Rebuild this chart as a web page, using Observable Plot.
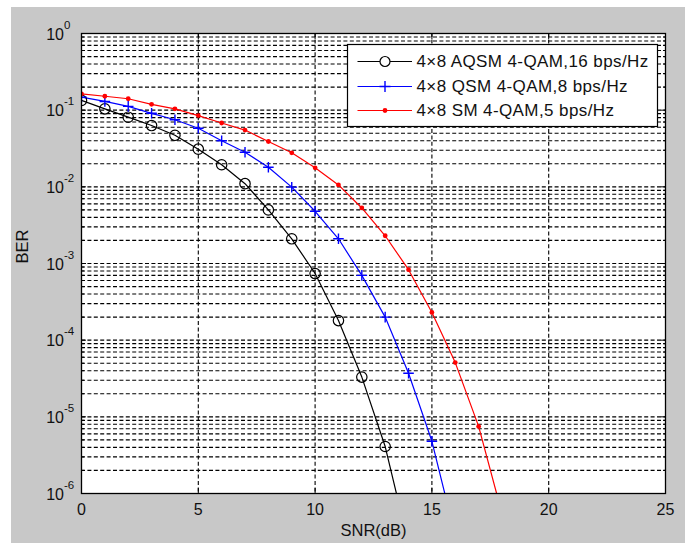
<!DOCTYPE html>
<html>
<head>
<meta charset="utf-8">
<script src="https://cdn.jsdelivr.net/npm/d3@7"></script>
<script src="https://cdn.jsdelivr.net/npm/@observablehq/plot@0.6"></script>
<style>
  body { margin: 0; background: #ffffff; }
  #fig { position: absolute; left: 11px; top: 7px; width: 674px; height: 536px; background: #c8c8c8; }
  #fig svg { display: block; }
</style>
</head>
<body>
<div id="fig"></div>
<script>
// ---- data ----
const snrAQSM = [0, 1, 2, 3, 4, 5, 6, 7, 8, 9, 10, 11, 12, 13, 14];
const berAQSM = [0.134, 0.104, 0.081, 0.063, 0.047, 0.031, 0.0194, 0.011, 0.005, 0.0021, 7.4e-4, 1.8e-4, 3.3e-5, 4.1e-6, 2.2e-7];

const snrQSM = [0, 1, 2, 3, 4, 5, 6, 7, 8, 9, 10, 11, 12, 13, 14, 15, 16];
const berQSM = [0.148, 0.130, 0.112, 0.091, 0.075, 0.058, 0.040, 0.0283, 0.018, 0.0099, 0.0048, 0.0021, 7.0e-4, 2.0e-4, 3.7e-5, 4.8e-6, 2.8e-7];

const snrSM = [0, 1, 2, 3, 4, 5, 6, 7, 8, 9, 10, 11, 12, 13, 14, 15, 16, 17, 18];
const berSM = [0.163, 0.152, 0.141, 0.119, 0.104, 0.085, 0.068, 0.055, 0.039, 0.0278, 0.0177, 0.0106, 0.0053, 0.0023, 8.3e-4, 2.3e-4, 5.1e-5, 7.5e-6, 5.5e-7];

const seriesNames = ["4\u00d78 AQSM 4-QAM,16 bps/Hz", "4\u00d78 QSM 4-QAM,8 bps/Hz", "4\u00d78 SM 4-QAM,5 bps/Hz"];
const seriesColors = ["#000000", "#0000ff", "#ff0000"];

const xTicks = [0, 5, 10, 15, 20, 25];
const xGrid = [5, 10, 15, 20];
const yTicks = [1, 0.1, 0.01, 0.001, 1e-4, 1e-5, 1e-6];
const yExponents = ["0", "-1", "-2", "-3", "-4", "-5", "-6"];
const mantissas = [1, 2, 3, 4, 5, 6, 7, 8, 9];

// ---- tables built from the arrays ----
const toRows = (xs, ys) => xs.map((x, i) => ({x, y: ys[i]}));
const rowsAQSM = toRows(snrAQSM, berAQSM);
const rowsQSM = toRows(snrQSM, berQSM);
const rowsSM = toRows(snrSM, berSM);
const yGrid = yTicks.slice(1).flatMap(d => mantissas.map(m => m * d)).filter(v => v > 1e-6 && v < 1);
const yMinor = yGrid.filter(v => !yTicks.includes(v));

const FONT = "'Liberation Sans', Arial, Helvetica, sans-serif";
const gridStyle = {stroke: "#000", strokeWidth: 1.1, strokeDasharray: "4,2.4"};

const plot = Plot.plot({
  width: 674,
  height: 536,
  marginLeft: 70,
  marginRight: 20,
  marginTop: 26,
  marginBottom: 50,
  style: {background: "transparent", fontFamily: FONT, color: "#111"},
  x: {domain: [0, 25], axis: null},
  y: {type: "log", domain: [1e-6, 1], axis: null},
  marks: [
    Plot.frame({fill: "white", stroke: "none"}),
    // grid
    Plot.ruleX(xGrid, {x: d => d, ...gridStyle}),
    Plot.ruleY(yGrid, {y: d => d, ...gridStyle}),
    // inner ticks
    Plot.axisX({anchor: "bottom", ticks: xTicks, tickSize: -5, tickFormat: () => "", label: null, stroke: "#000"}),
    Plot.axisX({anchor: "top", ticks: xTicks, tickSize: -5, tickFormat: () => "", label: null, stroke: "#000"}),
    Plot.axisY({anchor: "left", ticks: yTicks, tickSize: -5, tickFormat: () => "", label: null, stroke: "#000"}),
    Plot.axisY({anchor: "right", ticks: yTicks, tickSize: -5, tickFormat: () => "", label: null, stroke: "#000"}),
    Plot.axisY({anchor: "left", ticks: yMinor, tickSize: -3, tickFormat: () => "", label: null, stroke: "#000"}),
    Plot.axisY({anchor: "right", ticks: yMinor, tickSize: -3, tickFormat: () => "", label: null, stroke: "#000"}),
    // series
    Plot.line(rowsAQSM, {x: "x", y: "y", stroke: seriesColors[0], strokeWidth: 1.2, clip: true}),
    Plot.line(rowsQSM, {x: "x", y: "y", stroke: seriesColors[1], strokeWidth: 1.2, clip: true}),
    Plot.line(rowsSM, {x: "x", y: "y", stroke: seriesColors[2], strokeWidth: 1.2, clip: true}),
    Plot.dot(rowsAQSM, {x: "x", y: "y", r: 5.2, stroke: seriesColors[0], fill: "none", strokeWidth: 1.2, clip: true}),
    Plot.dot(rowsQSM, {x: "x", y: "y", r: 3.5, symbol: "plus", stroke: seriesColors[1], strokeWidth: 1.4, clip: true}),
    Plot.dot(rowsSM, {x: "x", y: "y", r: 2.4, fill: seriesColors[2], stroke: "none", clip: true}),
    // frame
    Plot.frame({stroke: "#000", strokeWidth: 1.3}),
    // tick labels
    Plot.text(xTicks, {x: d => d, frameAnchor: "bottom", dy: 16, lineAnchor: "middle", text: d => String(d), fontSize: 16, fill: "#111"}),
    Plot.text(yTicks, {y: d => d, frameAnchor: "left", dx: -17.5, dy: 1, lineAnchor: "middle", textAnchor: "end", text: () => "10", fontSize: 16, fill: "#111"}),
    Plot.text(yTicks, {y: d => d, frameAnchor: "left", dx: -17.5, dy: -8.5, lineAnchor: "middle", textAnchor: "start", text: (d, i) => yExponents[i], fontSize: 11.5, fill: "#111"}),
    // axis titles
    Plot.text(["SNR(dB)"], {frameAnchor: "bottom", dy: 37, lineAnchor: "middle", text: d => d, fontSize: 16.5, fill: "#111"}),
    Plot.text(["BER"], {frameAnchor: "left", dx: -59, rotate: -90, lineAnchor: "middle", text: d => d, fontSize: 16.5, fill: "#111"})
  ]
});

document.getElementById("fig").appendChild(plot);

// ---- legend (inside the SVG, top-right of the axes) ----
const svg = d3.select(plot);
const lg = svg.append("g").attr("transform", "translate(336.5,37.5)");
lg.append("rect").attr("width", 310).attr("height", 82).attr("fill", "white").attr("stroke", "#000").attr("stroke-width", 1.2);
const rowY = [17, 42, 66];
seriesNames.forEach((name, i) => {
  const g = lg.append("g").attr("transform", `translate(0,${rowY[i]})`);
  g.append("line").attr("x1", 10).attr("x2", 64.5).attr("y1", 0).attr("y2", 0)
    .attr("stroke", seriesColors[i]).attr("stroke-width", 1.2);
  if (i === 0) {
    g.append("circle").attr("cx", 37.5).attr("cy", 0).attr("r", 5).attr("fill", "white").attr("stroke", seriesColors[i]).attr("stroke-width", 1.2);
  } else if (i === 1) {
    g.append("path").attr("d", "M32,0H43M37.5,-5.5V5.5").attr("stroke", seriesColors[i]).attr("stroke-width", 1.4);
  } else {
    g.append("circle").attr("cx", 37.5).attr("cy", 0).attr("r", 2.4).attr("fill", seriesColors[i]);
  }
  g.append("text").attr("x", 69).attr("y", 0).attr("dy", "0.35em")
    .attr("text-anchor", "start")
    .attr("font-family", FONT).attr("font-size", 17).attr("letter-spacing", "0.4px")
    .attr("fill", "#111").text(name);
});
</script>
</body>
</html>
